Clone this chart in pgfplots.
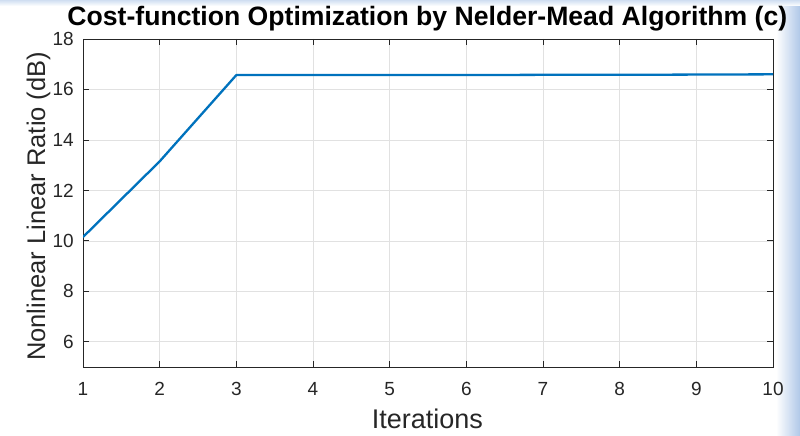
\documentclass[border=0pt]{standalone}
\usepackage{pgfplots}
\pgfplotsset{compat=1.18}
\usepackage{fontspec}
\setmainfont{Liberation Sans}
\definecolor{mblue}{RGB}{0,114,189}
\definecolor{axgray}{RGB}{38,38,38}
\definecolor{gridgray}{RGB}{225,225,225}
\definecolor{edgeblue}{RGB}{176,200,232}
\begin{document}
\begin{tikzpicture}
\useasboundingbox (0,0) rectangle (800pt,436pt);
% window edge shading of the screenshot
\shade[left color=white, right color=edgeblue] (776pt,0pt) rectangle (800pt,436pt);
\shade[top color=edgeblue!60, bottom color=white] (0pt,430pt) rectangle (800pt,436pt);
\begin{axis}[
    at={(83pt,69pt)}, anchor=south west,
    scale only axis,
    width=690pt, height=328pt,
    xmin=1, xmax=10, ymin=5, ymax=18,
    xtick={1,...,10},
    ytick={6,8,...,18},
    grid=major,
    major grid style={gridgray, line width=0.6pt},
    axis line style={axgray, line width=0.8pt},
    tick style={axgray, line width=0.8pt},
    tick align=inside,
    major tick length=6pt,
    /pgf/number format/assume math mode=true,
    ticklabel style={font=\fontsize{19}{20}\selectfont, text=axgray, inner sep=0pt},
    xticklabel style={anchor=base, yshift=-28pt},
    yticklabel style={anchor=east, xshift=-9pt},
    title={\textbf{Cost-function Optimization by Nelder-Mead Algorithm (c)}},
    title style={font=\fontsize{26.6}{28}\selectfont, text=black, at={(axis description cs:0.499,1.022)}, anchor=base, inner sep=0pt},
    xlabel={Iterations},
    xlabel style={font=\fontsize{27}{30}\selectfont, text=axgray, at={(axis description cs:0.499,-0.189)}, anchor=base, inner sep=0pt},
    ylabel={Nonlinear Linear Ratio (dB)},
    ylabel style={font=\fontsize{25.5}{28}\selectfont, text=axgray, at={(axis description cs:-0.055,0.49)}, anchor=base, inner sep=0pt},
]
\addplot[mblue, line width=2.3pt, line join=round] coordinates {
    (1,10.15) (2,13.15) (3,16.57) (4,16.57) (5,16.57) (6,16.57)
    (7,16.58) (8,16.58) (9,16.59) (10,16.60)
};
\end{axis}
\end{tikzpicture}
\end{document}
